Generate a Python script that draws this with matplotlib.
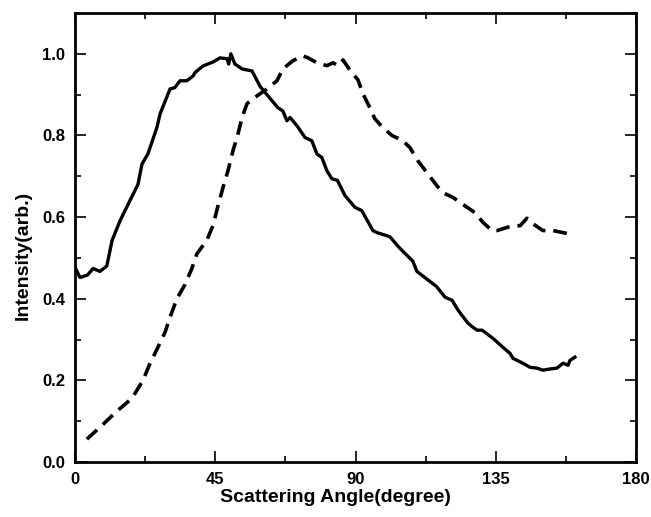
import matplotlib
matplotlib.use("Agg")
import matplotlib.pyplot as plt
from matplotlib.ticker import MultipleLocator

plt.rcParams['font.family'] = ['Liberation Sans', 'DejaVu Sans']

# solid curve
solid_x = [0, 1.6, 4, 5.8, 8, 10.2, 11.9, 14.4, 17.6, 20.2, 21.5, 23.4, 26.3, 27.3,
           30.5, 32, 33.7, 35.9, 37.9, 38.5, 41, 44.3, 46.5, 48.8, 49.3, 50, 51.3,
           53.6, 56.8, 59.4, 61.9, 65.1, 66.7, 68, 69, 71.2, 73.8, 76, 77.6, 79.2,
           80.8, 82.4, 84.2, 86.6, 89.8, 92, 95.6, 96.9, 101, 104.3, 108.4, 109.7,
           112.9, 116, 118.7, 121, 122.9, 126.1, 127.7, 129, 130.6, 134.1, 137.3,
           139.6, 140.5, 143.7, 146, 148.2, 150.1, 152.5, 154.6, 156.6, 158.2,
           158.8, 160.4]
solid_y = [0.477, 0.452, 0.458, 0.474, 0.467, 0.48, 0.543, 0.59, 0.64, 0.68, 0.73,
           0.755, 0.82, 0.853, 0.914, 0.917, 0.934, 0.934, 0.946, 0.954, 0.97,
           0.98, 0.99, 0.988, 0.975, 1.0, 0.975, 0.963, 0.958, 0.92, 0.897, 0.868,
           0.86, 0.836, 0.844, 0.824, 0.795, 0.787, 0.755, 0.746, 0.714, 0.694,
           0.69, 0.653, 0.624, 0.616, 0.567, 0.562, 0.552, 0.523, 0.492, 0.467,
           0.448, 0.43, 0.404, 0.396, 0.372, 0.34, 0.33, 0.323, 0.323, 0.303,
           0.281, 0.266, 0.254, 0.242, 0.232, 0.23, 0.225, 0.228, 0.23, 0.242,
           0.237, 0.249, 0.257]

# dashed curve
dash_x = [3.8, 8.7, 13.5, 18.3, 21.8, 24.1, 26.6, 28.9, 30.5, 32.7, 35.3, 37.5,
          39.1, 42.3, 44.3, 45.9, 47.5, 49.1, 50.7, 52.3, 53.6, 55.2, 58.4, 61.6,
          64.8, 66.7, 69.9, 73.1, 74.8, 77.6, 80.8, 82.8, 84.4, 86, 88.2, 90.8,
          92.4, 94.6, 96.2, 98.8, 101.7, 105.2, 107.5, 110, 112.9, 116.1, 118,
          121.3, 125.8, 128.3, 130.9, 133.8, 135.4, 139.6, 142.8, 145, 146.9,
          150.1, 153.4, 157.8, 159.8]
dash_y = [0.056, 0.09, 0.125, 0.156, 0.2, 0.242, 0.281, 0.318, 0.355, 0.4, 0.435,
          0.474, 0.51, 0.543, 0.58, 0.628, 0.673, 0.714, 0.763, 0.804, 0.844,
          0.878, 0.897, 0.914, 0.934, 0.963, 0.983, 0.995, 0.99, 0.978, 0.971,
          0.978, 0.971, 0.985, 0.96, 0.936, 0.902, 0.868, 0.841, 0.819, 0.8,
          0.787, 0.77, 0.738, 0.709, 0.677, 0.66, 0.648, 0.624, 0.611, 0.587,
          0.567, 0.567, 0.577, 0.579, 0.597, 0.584, 0.567, 0.567, 0.56, 0.567]

x_ticks = [0, 45, 90, 135, 180]
y_ticks = [0.0, 0.2, 0.4, 0.6, 0.8, 1.0]

fig = plt.figure(figsize=(6.51, 5.17), dpi=100)
ax = fig.add_axes([75 / 651, 55 / 517, 561 / 651, 449 / 517])

ax.plot(solid_x, solid_y, color='black', lw=2.4, solid_joinstyle='round')
ax.plot(dash_x, dash_y, color='black', lw=2.6, linestyle=(0, (3.8, 2.2)),
        dash_capstyle='butt')

ax.set_xlim(0, 180)
ax.set_ylim(0, 1.1)
ax.set_xticks(x_ticks)
ax.set_yticks(y_ticks)
ax.set_xticklabels([str(t) for t in x_ticks])
ax.set_yticklabels(['%.1f' % t for t in y_ticks])
ax.xaxis.set_minor_locator(MultipleLocator(22.5))
ax.yaxis.set_minor_locator(MultipleLocator(0.1))
ax.tick_params(which='both', direction='in', top=True, right=True, width=1.2,
               labelsize=12, pad=7)
ax.tick_params(which='major', length=8)
ax.tick_params(which='minor', length=4)
for lbl in ax.get_xticklabels() + ax.get_yticklabels():
    lbl.set_fontweight('bold')
for s in ax.spines.values():
    s.set_linewidth(2)

ax.set_xlabel('Scattering Angle(degree)', fontsize=14, fontweight='bold')
ax.set_ylabel('Intensity(arb.)', fontsize=14, fontweight='bold')
ax.xaxis.set_label_coords(0.465, -0.061)
ax.yaxis.set_label_coords(-0.077, 0.461)

fig.savefig('out.png', dpi=100)
